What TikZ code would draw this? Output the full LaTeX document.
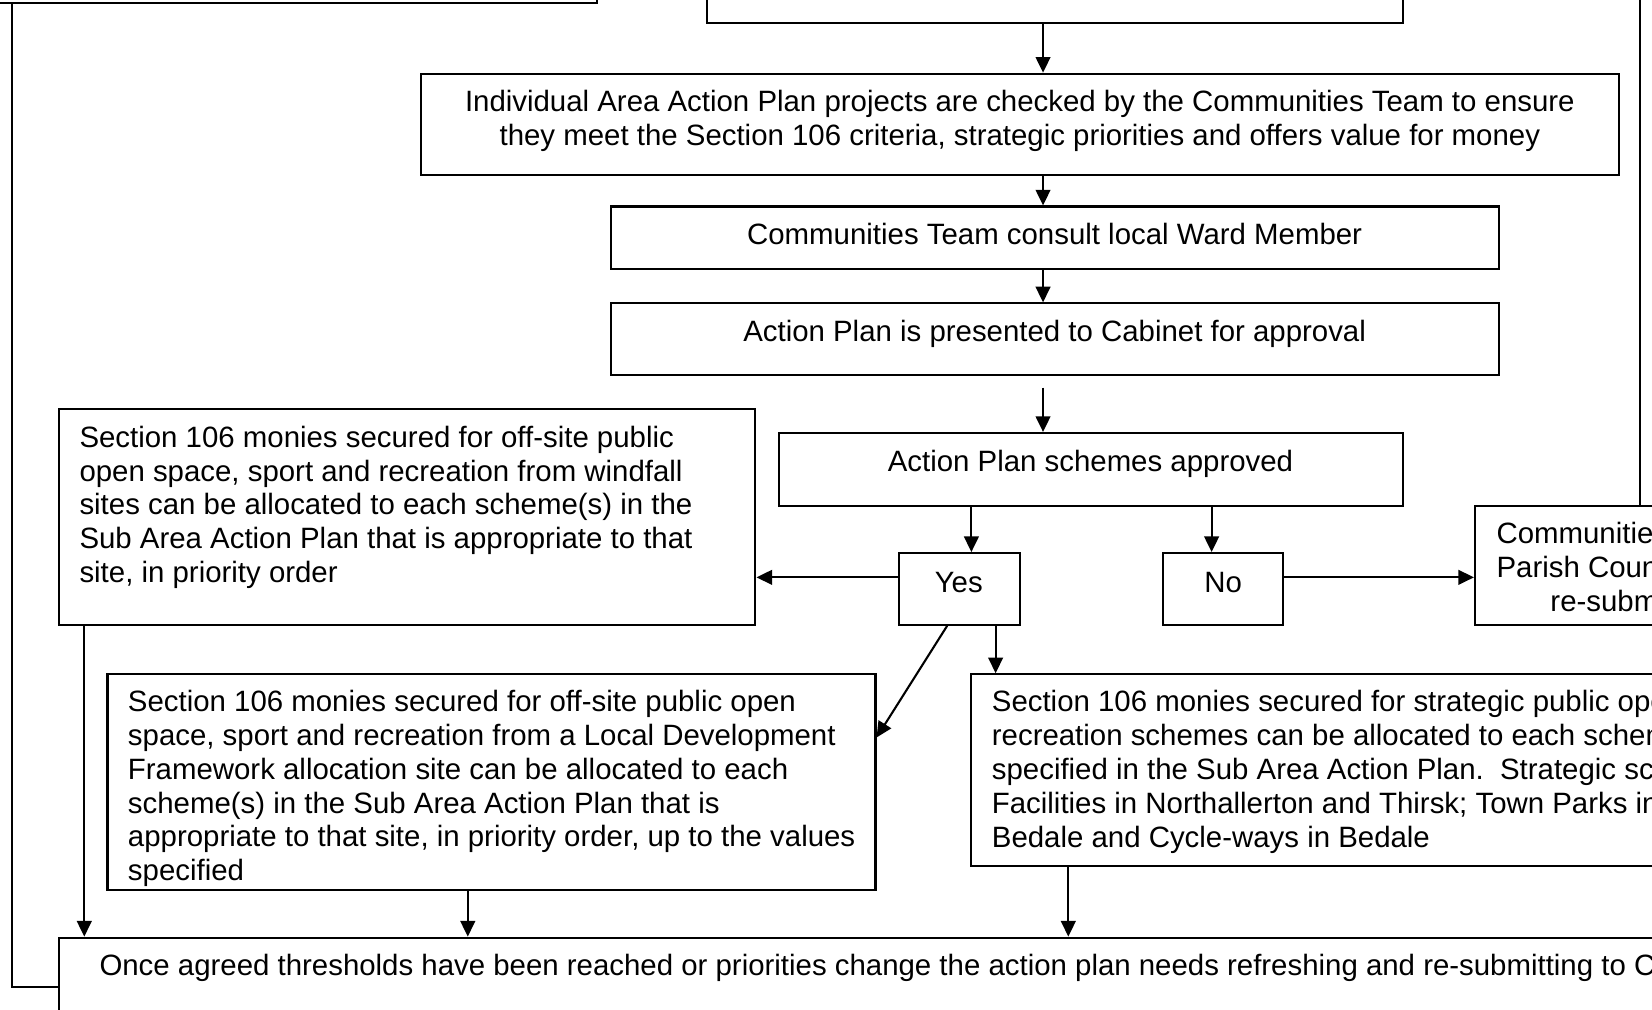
\documentclass[tikz,border=0pt]{standalone}
\usepackage{fontspec}
\setmainfont{Liberation Sans}
\usetikzlibrary{arrows.meta,fit,calc}
\begin{document}
\begin{tikzpicture}[x=0.43pt,y=-0.43pt,
  box/.style={draw, line width=0.85pt, inner sep=0pt},
  txt/.style={inner sep=0pt, font=\fontsize{12}{13.8}\selectfont, align=left},
  arr/.style={line width=0.85pt, -{Triangle[length=6.4pt,width=6pt]}},
  con/.style={line width=0.85pt}]
\useasboundingbox (0,0) rectangle (1568,958);
\clip (0,0) rectangle (1568,958);
% column / row helper coordinates
\coordinate (x990) at (990,0);
\coordinate (x922) at (922,0);
\coordinate (x1150) at (1150,0);
\coordinate (x899) at (899,0);
\coordinate (x945) at (945,0);
\coordinate (x80) at (80,0);
\coordinate (x444) at (444,0);
\coordinate (x1014) at (1014,0);
\coordinate (x11) at (11,0);
\coordinate (x1557) at (1557,0);
\coordinate (y548) at (0,548);
\coordinate (y700) at (0,700);
\coordinate (y937) at (0,937);
\coordinate (topR) at (1557,-30);
% boxes
\node[box, fit={(-20,-60) (567,3)}] (TL) {};
\node[box, fit={(671,-60) (1332,22)}] (T) {};
\node[box, fit={(400,70) (1537,166)}] (A) {};
\node[txt, align=center, anchor=base] (At) at (968,138) {Individual Area Action Plan projects are checked by the Communities Team to ensure\\they meet the Section 106 criteria, strategic priorities and offers value for money};
\node[box, fit={(580,196) (1423,255)}] (B) {};
\node[txt, anchor=base] (Bt) at (1001,232) {Communities Team consult local Ward Member};
\node[box, fit={(580,288) (1423,356)}] (C) {};
\node[txt, anchor=base] (Ct) at (1001,324) {Action Plan is presented to Cabinet for approval};
\node[box, fit={(739,411) (1332,480)}] (D) {};
\node[txt, anchor=base] (Dt) at (1035,448) {Action Plan schemes approved};
\node[box, fit={(853,525) (968,593)}] (Y) {};
\node[txt, anchor=base] (Yt) at (910,562) {Yes};
\node[box, fit={(1104,525) (1218,593)}] (N) {};
\node[txt, anchor=base] (Nt) at (1161,562) {No};
\node[box, fit={(1400,480) (1620,593)}] (F) {};
\node[txt, anchor=base west] (Ft) at (1420,580) {Communities\\Parish Council\\\hspace*{22pt}re-submit};
\node[box, fit={(56,388) (717,593)}] (E) {};
\node[txt, anchor=base west] (Et) at (75,553) {Section 106 monies secured for off-site public\\open space, sport and recreation from windfall\\sites can be allocated to each scheme(s) in the\\Sub Area Action Plan that is appropriate to that\\site, in priority order};
\node[box, fit={(102,640) (831,845)}] (G) {};
\node[txt, anchor=base west] (Gt) at (121,836) {Section 106 monies secured for off-site public open\\space, sport and recreation from a Local Development\\Framework allocation site can be allocated to each\\scheme(s) in the Sub Area Action Plan that is\\appropriate to that site, in priority order, up to the values\\specified};
\node[box, fit={(922,640) (1620,822)}] (H) {};
\node[txt, anchor=base west] (Ht) at (941,804) {Section 106 monies secured for strategic public open\\recreation schemes can be allocated to each scheme\\specified in the Sub Area Action Plan.\ \ Strategic schemes\\Facilities in Northallerton and Thirsk; Town Parks in\\Bedale and Cycle-ways in Bedale};
\node[box, fit={(56,890) (1620,962)}] (I) {};
\node[txt, anchor=base west] (It) at (94,926) {Once agreed thresholds have been reached or priorities change the action plan needs refreshing and re-submitting to Cabinet};
% connectors
\draw[arr] (T.south -| x990) -- (A.north -| x990);
\draw[arr] (A.south -| x990) -- (B.north -| x990);
\draw[arr] (B.south -| x990) -- (C.north -| x990);
\draw[arr] ($(C.south -| x990)+(0,11)$) -- (D.north -| x990);
\draw[arr] (D.south -| x922) -- (Y.north -| x922);
\draw[arr] (D.south -| x1150) -- (N.north -| x1150);
\draw[arr] (Y.west |- y548) -- (E.east |- y548);
\draw[arr] (N.east |- y548) -- (F.west |- y548);
\draw[arr] (Y.south -| x899) -- (G.east |- y700);
\draw[arr] (Y.south -| x945) -- (H.north -| x945);
\draw[arr] (E.south -| x80) -- (I.north -| x80);
\draw[arr] (G.south -| x444) -- (I.north -| x444);
\draw[arr] (H.south -| x1014) -- (I.north -| x1014);
\draw[con] (I.west |- y937) -- (x11 |- y937) -- (x11 |- TL.south);
\draw[con] (F.north -| x1557) -- (topR);
\end{tikzpicture}
\end{document}
